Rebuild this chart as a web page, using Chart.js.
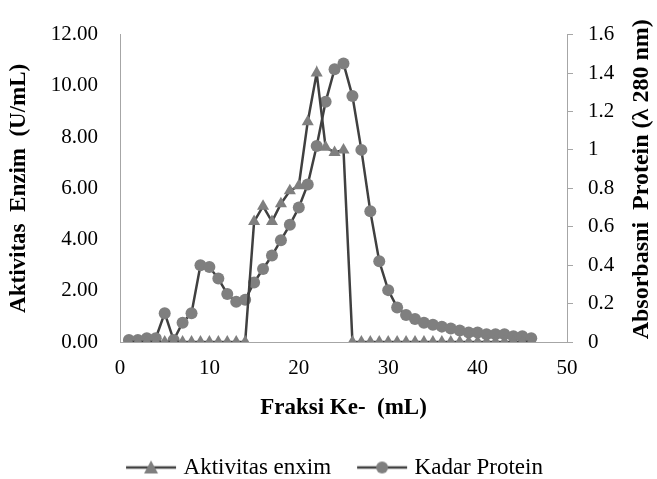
<!DOCTYPE html>
<html>
<head>
<meta charset="utf-8">
<script src="https://cdn.jsdelivr.net/npm/chart.js@4"></script>
<style>
  html, body { margin: 0; padding: 0; background: #fff; }
  #wrap { width: 657px; height: 479px; position: relative; }
</style>
</head>
<body>
<div id="wrap"><canvas id="fraksiChart"></canvas></div>
<script>
// fraction numbers (mL)
var fractions = [1,2,3,4,5,6,7,8,9,10,11,12,13,14,15,16,17,18,19,20,21,22,23,24,25,26,27,28,29,30,31,32,33,34,35,36,37,38,39,40,41,42,43,44,45,46];
// enzyme activity (U/mL), left axis
var enzymeActivity = [0,0,0,0,0,0,0,0,0,0,0,0,0,0,4.7,5.3,4.7,5.4,5.9,6.1,8.6,10.5,7.6,7.4,7.5,0,0,0,0,0,0,0,0,0,0,0,0,0,0,0,0,0,0,0,0,0];
// protein absorbance (280 nm), right axis
var proteinAbs = [0.01,0.01,0.02,0.02,0.15,0.01,0.10,0.15,0.40,0.39,0.33,0.25,0.21,0.22,0.31,0.38,0.45,0.53,0.61,0.70,0.82,1.02,1.25,1.42,1.45,1.28,1.00,0.68,0.42,0.27,0.18,0.14,0.12,0.10,0.09,0.08,0.07,0.06,0.05,0.05,0.04,0.04,0.04,0.03,0.03,0.02];

var xTicks = [0,10,20,30,40,50];
var seriesNames = ["Aktivitas enxim","Kadar Protein"];

var lineCol = "#404040";
var markCol = "#7f7f7f";
var axisCol = "#a6a6a6";
var serif = "'Liberation Serif', 'Times New Roman', serif";

function toPoints(ys){
    var pts = [];
    for (var i = 0; i < fractions.length; i++) pts.push({x: fractions[i], y: ys[i]});
    return pts;
}

// legend symbol: short line with marker in the middle
// (image is wider than the legend box so the text sits close to the line)
function legendSymbol(kind){
    var c = document.createElement("canvas");
    c.width = 74; c.height = 16;
    var g = c.getContext("2d");
    g.strokeStyle = lineCol; g.lineWidth = 2.5;
    g.beginPath(); g.moveTo(20, 8); g.lineTo(70, 8); g.stroke();
    g.fillStyle = markCol;
    g.beginPath();
    if (kind === "triangle") {
        g.moveTo(45, 1); g.lineTo(52, 14); g.lineTo(38, 14); g.closePath();
    } else {
        g.arc(45, 8, 6, 0, Math.PI * 2);
    }
    g.fill();
    return c;
}
var legendIcons = [legendSymbol("triangle"), legendSymbol("circle")];

// right axis title reads bottom-to-top like the original
var rightTitle = {
    id: "rightTitle",
    afterDraw: function(chart){
        var ctx = chart.ctx, area = chart.chartArea;
        ctx.save();
        ctx.translate(642, (area.top + area.bottom) / 2 - 9);
        ctx.rotate(-Math.PI / 2);
        ctx.font = "bold 24px " + serif;
        ctx.fillStyle = "#000";
        ctx.textAlign = "center";
        ctx.textBaseline = "middle";
        ctx.fillText("Absorbasni  Protein (\u03bb 280 nm)", 0, 0);
        ctx.restore();
    }
};

var config = {
    type: "line",
    data: {
        datasets: [{
            label: seriesNames[0],
            data: toPoints(enzymeActivity),
            yAxisID: "y",
            borderColor: lineCol,
            borderWidth: 2.5,
            backgroundColor: markCol,
            pointStyle: "triangle",
            pointRadius: 7,
            pointBorderWidth: 0,
            pointBackgroundColor: markCol,
            tension: 0
        }, {
            label: seriesNames[1],
            data: toPoints(proteinAbs),
            yAxisID: "y1",
            borderColor: lineCol,
            borderWidth: 2.5,
            backgroundColor: markCol,
            pointStyle: "circle",
            pointRadius: 6,
            pointBorderWidth: 0,
            pointBackgroundColor: markCol,
            tension: 0
        }]
    },
    options: {
        responsive: true,
        maintainAspectRatio: false,
        animation: false,
        layout: { padding: { top: 24, left: 0, right: 0, bottom: -10 } },
        scales: {
            x: {
                type: "linear",
                min: 0, max: 50,
                afterBuildTicks: function(s){ s.ticks = xTicks.map(function(v){ return {value: v}; }); },
                afterFit: function(s){ s.height = 100; },
                grid: { display: false, drawTicks: false },
                border: { display: true, color: axisCol, width: 1 },
                ticks: { color: "#000", padding: 14, font: { family: serif, size: 21 } },
                title: { display: true, text: "Fraksi Ke-  (mL)", color: "#000",
                         padding: { top: 0, bottom: 20 },
                         font: { family: serif, size: 23, weight: "bold" } }
            },
            y: {
                position: "left",
                min: 0, max: 12,
                afterFit: function(s){ s.width = 120; },
                grid: { display: false, drawTicks: false },
                border: { display: true, color: axisCol, width: 1 },
                ticks: { stepSize: 2, color: "#000", padding: 22,
                         font: { family: serif, size: 21 },
                         callback: function(v){ return v.toFixed(2); } },
                title: { display: true, text: "Aktivitas  Enzim  (U/mL)", color: "#000",
                         padding: { top: 5, bottom: 0 },
                         font: { family: serif, size: 23, weight: "bold" } }
            },
            y1: {
                position: "right",
                min: 0, max: 1.6,
                afterFit: function(s){ s.width = 90; },
                grid: { display: true, drawOnChartArea: false, drawTicks: true, tickLength: 6, color: axisCol },
                border: { display: true, color: axisCol, width: 1 },
                ticks: { stepSize: 0.2, color: "#000", padding: 15,
                         font: { family: serif, size: 21 },
                         callback: function(v){ return String(Number(v.toFixed(1))); } }
            }
        },
        plugins: {
            legend: {
                position: "bottom",
                labels: {
                    usePointStyle: true,
                    pointStyleWidth: 58,
                    padding: 14,
                    color: "#000",
                    font: { family: serif, size: 23 },
                    generateLabels: function(chart){
                        var items = Chart.defaults.plugins.legend.labels.generateLabels(chart);
                        items.forEach(function(it, i){ it.pointStyle = legendIcons[i]; });
                        return items;
                    }
                }
            },
            tooltip: { enabled: false }
        }
    },
    plugins: [rightTitle]
};

var fraksiChart = new Chart(document.getElementById("fraksiChart"), config);
</script>
</body>
</html>
